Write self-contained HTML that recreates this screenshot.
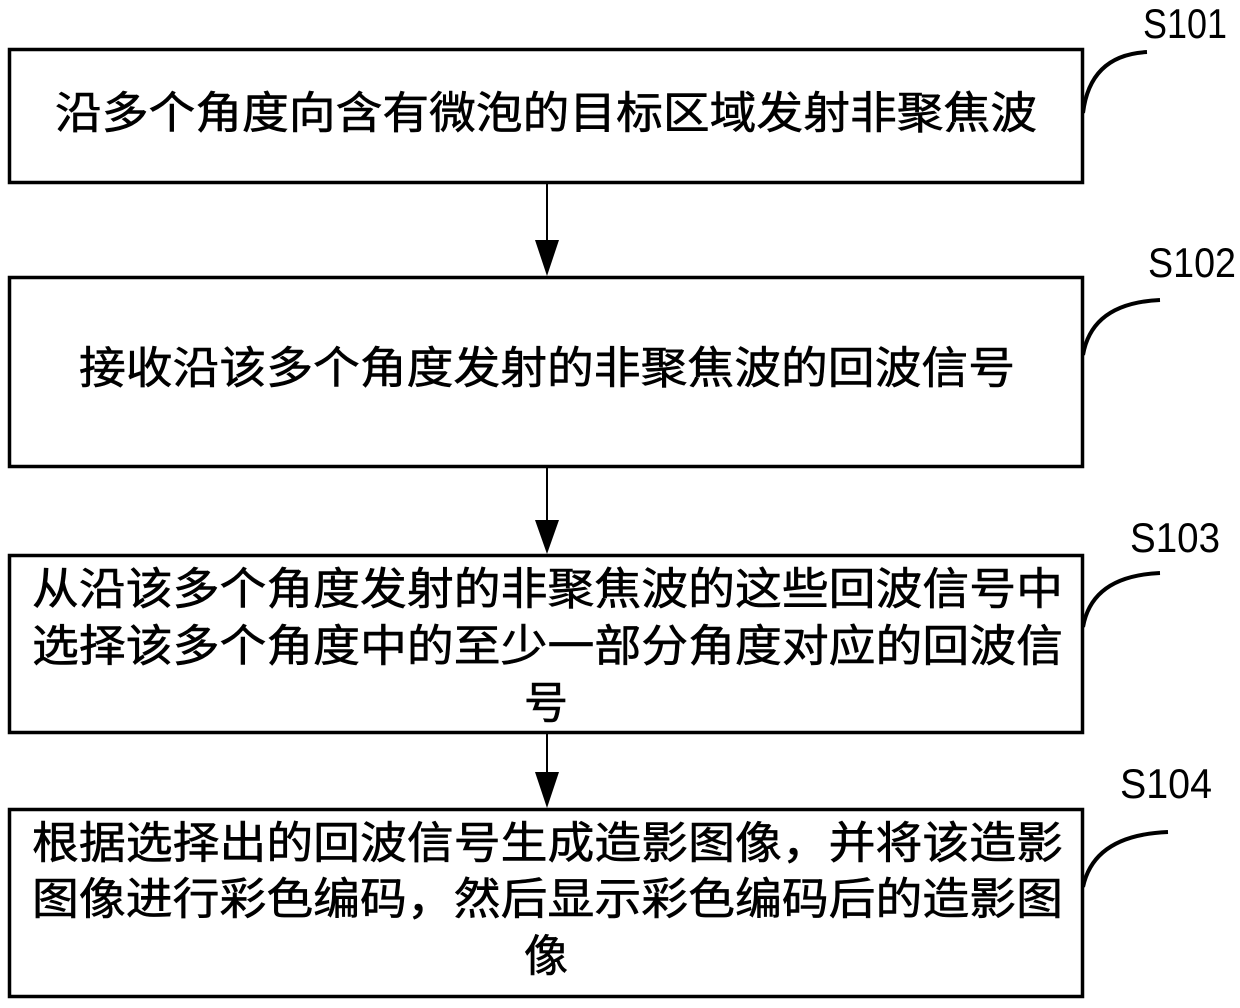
<!DOCTYPE html>
<html><head><meta charset="utf-8"><style>
body{margin:0;background:#fff}
svg text{font-family:"Liberation Sans","Noto Sans CJK SC",sans-serif;fill:#000}
.m text{stroke:#000;stroke-width:0.6}
</style></head><body>
<svg width="1240" height="1003" viewBox="0 0 1240 1003" xmlns="http://www.w3.org/2000/svg">
<g fill="none" stroke="#000" stroke-width="3.5">
<rect x="9.5" y="49.5" width="1073" height="133"/>
<rect x="9.5" y="277.5" width="1073" height="189"/>
<rect x="9.5" y="555.5" width="1073" height="177"/>
<rect x="9.5" y="809.5" width="1073" height="187"/>
<path d="M1083 113 Q1090 55 1147 52" stroke-width="4"/>
<path d="M1083 355 Q1092 303 1160 300" stroke-width="4"/>
<path d="M1083 627 Q1092 576 1160 573" stroke-width="4"/>
<path d="M1083 887 Q1094 835 1168 832" stroke-width="4"/>
</g>
<g stroke="#000" stroke-width="2">
<line x1="547" y1="183" x2="547" y2="245"/>
<line x1="547" y1="467" x2="547" y2="525"/>
<line x1="547" y1="733" x2="547" y2="775"/>
</g>
<g fill="#000">
<polygon points="535,240 559,240 547,276"/>
<polygon points="535,520 559,520 547,554"/>
<polygon points="535,772 559,772 547,808"/>
</g>
<g font-size="42">
<text x="1143" y="38" textLength="84" lengthAdjust="spacingAndGlyphs">S101</text>
<text x="1148" y="277" textLength="88" lengthAdjust="spacingAndGlyphs">S102</text>
<text x="1130" y="552" textLength="90" lengthAdjust="spacingAndGlyphs">S103</text>
<text x="1120" y="798" textLength="92" lengthAdjust="spacingAndGlyphs">S104</text>
</g>
<g font-size="44" class="m">
<text x="55" y="128" textLength="982" lengthAdjust="spacingAndGlyphs">沿多个角度向含有微泡的目标区域发射非聚焦波</text>
<text x="79" y="383" textLength="936" lengthAdjust="spacingAndGlyphs">接收沿该多个角度发射的非聚焦波的回波信号</text>
<text x="32" y="604" textLength="1031" lengthAdjust="spacingAndGlyphs">从沿该多个角度发射的非聚焦波的这些回波信号中</text>
<text x="32" y="661" textLength="1031" lengthAdjust="spacingAndGlyphs">选择该多个角度中的至少一部分角度对应的回波信</text>
<text x="524" y="718">号</text>
<text x="32" y="858" textLength="1031" lengthAdjust="spacingAndGlyphs">根据选择出的回波信号生成造影图像，并将该造影</text>
<text x="32" y="914" textLength="1031" lengthAdjust="spacingAndGlyphs">图像进行彩色编码，然后显示彩色编码后的造影图</text>
<text x="524" y="971">像</text>
</g>
</svg>
</body></html>
